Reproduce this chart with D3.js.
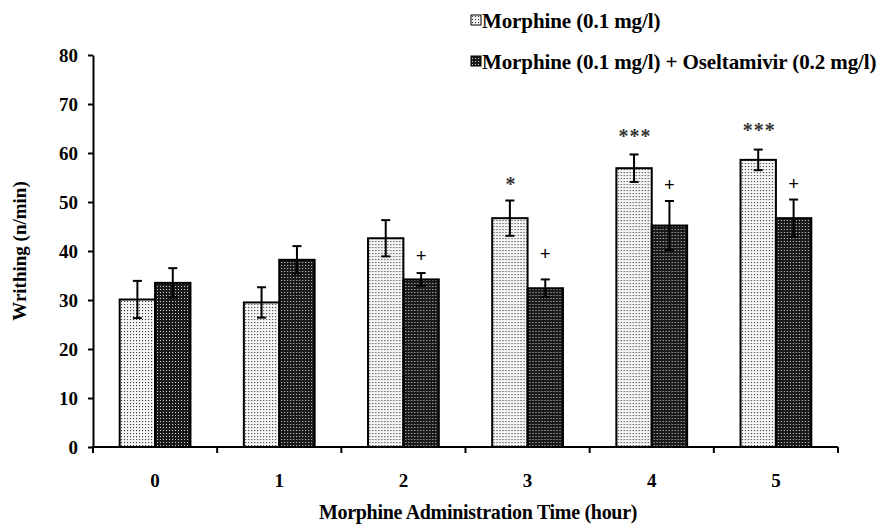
<!DOCTYPE html>
<html>
<head>
<meta charset="utf-8">
<script src="https://cdn.jsdelivr.net/npm/d3@7"></script>
<style>
  html, body { margin: 0; padding: 0; background: #fff; }
  svg { display: block; }
  text { font-family: "Liberation Serif", "Times New Roman", serif; font-weight: bold; }
</style>
</head>
<body>
<svg id="chart" width="896" height="524"></svg>
<script>
// ---- data ----
const categories = ["0", "1", "2", "3", "4", "5"];
const seriesNames = ["Morphine (0.1 mg/l)", "Morphine (0.1 mg/l) + Oseltamivir (0.2 mg/l)"];
const morphine = [30.1, 29.5, 42.6, 46.7, 56.9, 58.6];
const morphineErr = [3.8, 3.1, 3.7, 3.6, 2.8, 2.1];
const combo = [33.5, 38.2, 34.2, 32.4, 45.2, 46.7];
const comboErr = [3.0, 2.8, 1.3, 1.8, 5.0, 3.8];
const starLabels = ["", "", "", "*", "***", "***"];
const starLevels = [null, null, null, 54.5, 64.3, 65.6];
const plusLabels = ["", "", "+", "+", "+", "+"];
const plusLevels = [null, null, 39.0, 39.4, 53.5, 53.7];
const yTicks = [0, 10, 20, 30, 40, 50, 60, 70, 80];

const svg = d3.select("#chart");
const margin = { left: 93, right: 58, top: 55, bottom: 77 };
const W = 896, H = 524;

// patterns
const defs = svg.append("defs");
const pLight = defs.append("pattern").attr("id", "pLight").attr("patternUnits", "userSpaceOnUse")
  .attr("width", 3).attr("height", 3);
pLight.append("rect").attr("width", 3).attr("height", 3).attr("fill", "#f6f6f6");
pLight.append("rect").attr("x", 1).attr("y", 1).attr("width", 1.1).attr("height", 1.1).attr("fill", "#3a3a3a");
const pDark = defs.append("pattern").attr("id", "pDark").attr("patternUnits", "userSpaceOnUse")
  .attr("width", 3).attr("height", 3);
pDark.append("rect").attr("width", 3).attr("height", 3).attr("fill", "#1a1a1a");
pDark.append("rect").attr("x", 1).attr("y", 1).attr("width", 1).attr("height", 1).attr("fill", "#d0d0d0");
const fills = ["url(#pLight)", "url(#pDark)"];

const x0 = d3.scaleBand().domain(categories).range([margin.left, W - margin.right]).paddingInner(0).paddingOuter(0);
const bw = x0.bandwidth();
const x1 = d3.scaleBand().domain(d3.range(seriesNames.length)).range([bw * 0.215, bw * 0.785]).padding(0);
const y = d3.scaleLinear().domain([0, 80]).range([H - margin.bottom, margin.top]);

const rows = categories.map((c, i) => ({
  cat: c,
  vals: [
    { s: 0, v: morphine[i], e: morphineErr[i] },
    { s: 1, v: combo[i], e: comboErr[i] }
  ]
}));

// bars
const groups = svg.append("g").selectAll("g").data(rows).join("g")
  .attr("transform", d => `translate(${x0(d.cat)},0)`);
groups.selectAll("rect").data(d => d.vals).join("rect")
  .attr("x", d => x1(d.s))
  .attr("y", d => y(d.v))
  .attr("width", x1.bandwidth())
  .attr("height", d => y(0) - y(d.v))
  .attr("fill", d => fills[d.s])
  .attr("stroke", "#000")
  .attr("stroke-width", 2);

// error bars
const cap = 4.5;
groups.selectAll("g.err").data(d => d.vals).join("g").attr("class", "err")
  .each(function(d) {
    const g = d3.select(this);
    const cx = x1(d.s) + x1.bandwidth() / 2;
    g.append("line").attr("x1", cx).attr("x2", cx).attr("y1", y(d.v + d.e)).attr("y2", y(d.v - d.e))
      .attr("stroke", "#000").attr("stroke-width", 2);
    [d.v + d.e, d.v - d.e].forEach(v => {
      g.append("line").attr("x1", cx - cap).attr("x2", cx + cap).attr("y1", y(v)).attr("y2", y(v))
        .attr("stroke", "#000").attr("stroke-width", 2);
    });
  });

// annotations
categories.forEach((c, i) => {
  if (starLabels[i]) {
    svg.append("text")
      .attr("x", x0(c) + x1(0) + x1.bandwidth() / 2 + 1)
      .attr("y", y(starLevels[i]) + 11)
      .attr("text-anchor", "middle")
      .attr("font-size", 20)
      .attr("letter-spacing", 1)
      .attr("fill", "#333")
      .text(starLabels[i]);
  }
  if (plusLabels[i]) {
    svg.append("text")
      .attr("x", x0(c) + x1(1) + x1.bandwidth() / 2)
      .attr("y", y(plusLevels[i]) + 6.5)
      .attr("text-anchor", "middle")
      .attr("font-size", 19)
      .attr("fill", "#000")
      .text(plusLabels[i]);
  }
});

// y axis
const yAxis = d3.axisLeft(y).tickValues(yTicks).tickSize(5).tickSizeOuter(0).tickPadding(10);
const gy = svg.append("g").attr("transform", `translate(${margin.left},0)`).call(yAxis);
gy.select(".domain").attr("stroke", "#000").attr("stroke-width", 2);
gy.selectAll(".tick line").attr("stroke", "#000").attr("stroke-width", 2);
gy.selectAll(".tick text").attr("font-size", 19).attr("fill", "#000")
  .style("font-family", "'Liberation Serif', serif").style("font-weight", "bold");

// x axis (line + boundary ticks)
const gx = svg.append("g").attr("transform", `translate(0,${y(0)})`);
gx.append("line").attr("x1", margin.left - 1).attr("x2", W - margin.right).attr("y1", 0).attr("y2", 0)
  .attr("stroke", "#000").attr("stroke-width", 2);
const bounds = categories.map(c => x0(c)).concat([x0(categories[categories.length - 1]) + bw]);
gx.selectAll("line.bt").data(bounds).join("line").attr("class", "bt")
  .attr("x1", d => d).attr("x2", d => d).attr("y1", 0).attr("y2", 6)
  .attr("stroke", "#000").attr("stroke-width", 2);
gx.selectAll("text.cl").data(categories).join("text").attr("class", "cl")
  .attr("x", d => x0(d) + bw / 2).attr("y", 40)
  .attr("text-anchor", "middle").attr("font-size", 19).attr("fill", "#000")
  .text(d => d);

// axis titles
svg.append("text")
  .attr("x", 478).attr("y", 519)
  .attr("text-anchor", "middle").attr("font-size", 20).attr("fill", "#000")
  .attr("letter-spacing", -0.3)
  .text("Morphine Administration Time (hour)");
svg.append("text")
  .attr("transform", `translate(26,${y(40)}) rotate(-90)`)
  .attr("text-anchor", "middle").attr("font-size", 19).attr("fill", "#000")
  .text("Writhing (n/min)");

// legend
const leg = svg.append("g");
seriesNames.forEach((name, i) => {
  const base = 28 + i * 41;
  leg.append("rect").attr("x", 471).attr("y", base - 13).attr("width", 10).attr("height", 10)
    .attr("fill", fills[i]).attr("stroke", "#000").attr("stroke-width", 1);
  leg.append("text").attr("x", 482).attr("y", base).attr("font-size", 21).attr("fill", "#000")
    .attr("letter-spacing", -0.1)
    .text(name);
});
</script>
</body>
</html>
